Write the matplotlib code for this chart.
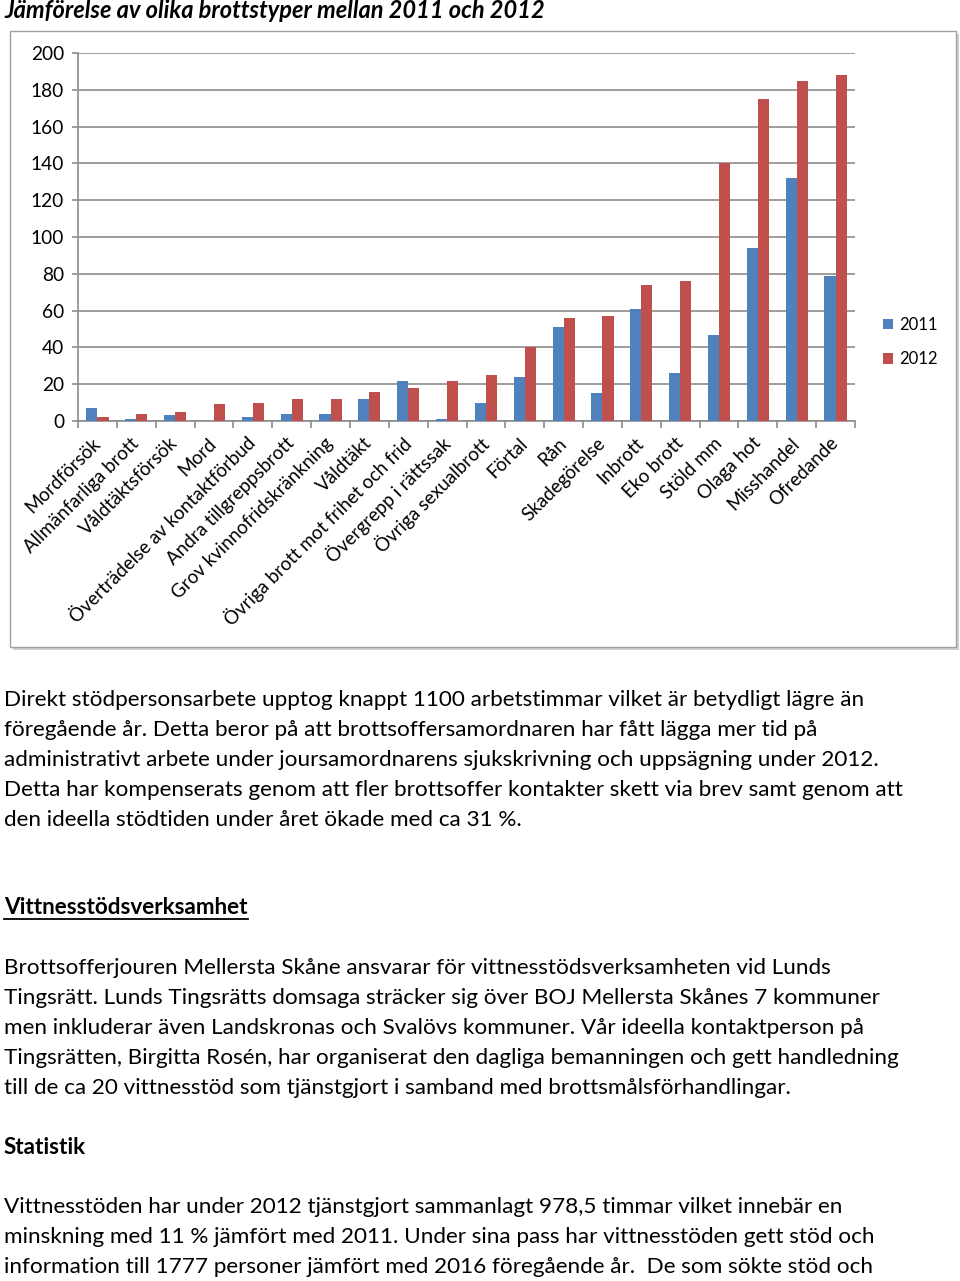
import matplotlib.pyplot as plt
import matplotlib.patches as patches
import numpy as np

plt.rcParams['font.family'] = ['Lato', 'DejaVu Sans']

title = "Jämförelse av olika brottstyper mellan 2011 och 2012"
categories = ["Mordförsök", "Allmänfarliga brott", "Våldtäktsförsök", "Mord",
              "Överträdelse av kontaktförbud", "Andra tillgreppsbrott",
              "Grov kvinnofridskränkning", "Våldtäkt", "Övriga brott mot frihet och frid",
              "Övergrepp i rättssak", "Övriga sexualbrott", "Förtal", "Rån",
              "Skadegörelse", "Inbrott", "Eko brott", "Stöld mm", "Olaga hot",
              "Misshandel", "Ofredande"]
values_2011 = [7, 1, 3, 0, 2, 4, 4, 12, 22, 1, 10, 24, 51, 15, 61, 26, 47, 94, 132, 79]
values_2012 = [2, 4, 5, 9, 10, 12, 12, 16, 18, 22, 25, 40, 56, 57, 74, 76, 140, 175, 185, 188]
series_labels = ["2011", "2012"]
y_ticks = [0, 20, 40, 60, 80, 100, 120, 140, 160, 180, 200]

para1 = ["Direkt stödpersonsarbete upptog knappt 1100 arbetstimmar vilket är betydligt lägre än",
         "föregående år. Detta beror på att brottsoffersamordnaren har fått lägga mer tid på",
         "administrativt arbete under joursamordnarens sjukskrivning och uppsägning under 2012.",
         "Detta har kompenserats genom att fler brottsoffer kontakter skett via brev samt genom att",
         "den ideella stödtiden under året ökade med ca 31 %."]
heading1 = "Vittnesstödsverksamhet"
para2 = ["Brottsofferjouren Mellersta Skåne ansvarar för vittnesstödsverksamheten vid Lunds",
         "Tingsrätt. Lunds Tingsrätts domsaga sträcker sig över BOJ Mellersta Skånes 7 kommuner",
         "men inkluderar även Landskronas och Svalövs kommuner. Vår ideella kontaktperson på",
         "Tingsrätten, Birgitta Rosén, har organiserat den dagliga bemanningen och gett handledning",
         "till de ca 20 vittnesstöd som tjänstgjort i samband med brottsmålsförhandlingar."]
heading2 = "Statistik"
para3 = ["Vittnesstöden har under 2012 tjänstgjort sammanlagt 978,5 timmar vilket innebär en",
         "minskning med 11 % jämfört med 2011. Under sina pass har vittnesstöden gett stöd och",
         "information till 1777 personer jämfört med 2016 föregående år.  De som sökte stöd och"]

W, H = 960, 1281
fig = plt.figure(figsize=(W / 100, H / 100), dpi=100)


def fx(x):
    return x / W


def fy(y):
    return 1 - y / H


# chart frame
fig.patches.append(patches.Rectangle((fx(13), fy(650)), fx(946), (647 - 31) / H,
                                     transform=fig.transFigure, facecolor="#d0d0d0",
                                     edgecolor="none", zorder=0))
fig.patches.append(patches.Rectangle((fx(10), fy(647)), fx(946), (647 - 31) / H,
                                     transform=fig.transFigure, facecolor="white",
                                     edgecolor="#a0a0a0", lw=1, zorder=1))

fig.text(fx(4), fy(11), title, fontsize=17, fontweight="bold", style="italic",
         ha="left", va="center")

ax = fig.add_axes([fx(78), fy(421), (855 - 78) / W, (421 - 53) / H])
ax.set_zorder(2)
x = np.arange(len(categories))
bw = 0.2857
ax.bar(x - bw / 2, values_2011, bw, color="#4F81BD", label=series_labels[0], zorder=3)
ax.bar(x + bw / 2, values_2012, bw, color="#C0504D", label=series_labels[1], zorder=3)
ax.set_xlim(-0.5, len(categories) - 0.5)
ax.set_ylim(0, 200)
ax.set_yticks(y_ticks)
ax.set_yticklabels([str(v) for v in y_ticks], fontsize=13.8)
ax.yaxis.grid(True, color="#8c8c8c", lw=1.2, zorder=0)
ax.set_axisbelow(True)
for s in ["top", "right"]:
    ax.spines[s].set_visible(False)
for s in ["left", "bottom"]:
    ax.spines[s].set_color("#8c8c8c")
    ax.spines[s].set_linewidth(1.2)
ax.tick_params(axis="y", length=4, color="#8c8c8c", width=1.2, pad=6)
ax.set_xticks(np.arange(-0.5, len(categories)), minor=True)
ax.set_xticks(x)
ax.set_xticklabels(categories, rotation=45, ha="right", va="center",
                   rotation_mode="anchor", fontsize=13.5)
ax.tick_params(axis="x", which="major", length=0, pad=14)
ax.tick_params(axis="x", which="minor", length=5, color="#8c8c8c", width=1.2)
ax.patch.set_alpha(0)

leg = fig.legend(loc="upper left", bbox_to_anchor=(fx(868), fy(302)), frameon=False,
                 fontsize=12, handlelength=0.6, handleheight=0.6, labelspacing=1.1,
                 handletextpad=0.4)

body_fs = 16.2
ys = [700, 730, 760, 790, 820]
for line, yy in zip(para1, ys):
    fig.text(fx(4), fy(yy), line, fontsize=body_fs, ha="left", va="center")

t = fig.text(fx(4), fy(907), heading1, fontsize=body_fs, fontweight="bold",
             ha="left", va="center")
fig.canvas.draw()
bb = t.get_window_extent()
fig.add_artist(plt.Line2D([bb.x0 / W, bb.x1 / W], [fy(919), fy(919)],
                          transform=fig.transFigure, color="black", lw=1.3))

ys = [968, 998, 1028, 1058, 1088]
for line, yy in zip(para2, ys):
    fig.text(fx(4), fy(yy), line, fontsize=body_fs, ha="left", va="center")

fig.text(fx(4), fy(1147), heading2, fontsize=body_fs, fontweight="bold",
         ha="left", va="center")

ys = [1207, 1237, 1267]
for line, yy in zip(para3, ys):
    fig.text(fx(4), fy(yy), line, fontsize=body_fs, ha="left", va="center")

fig.savefig("out.png", dpi=100)
